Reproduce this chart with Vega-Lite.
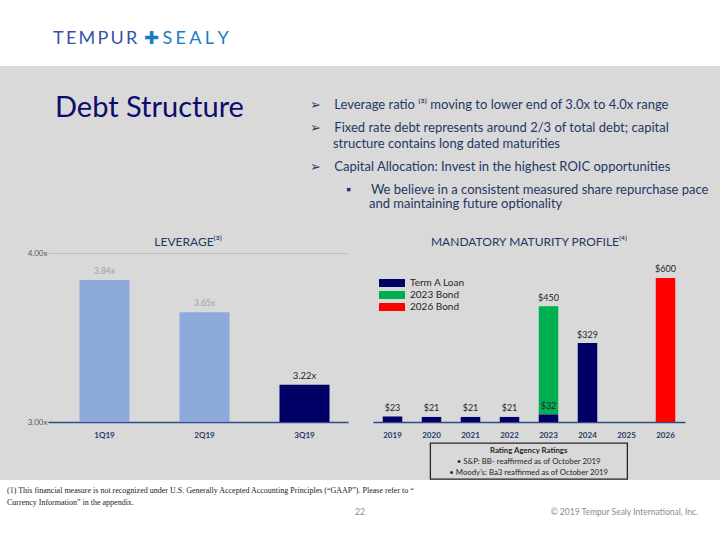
{
  "$schema": "https://vega.github.io/schema/vega-lite/v6.json",
  "background": "#d9d9d9",
  "padding": 0,
  "spacing": 0,
  "resolve": {"scale": {"color": "independent"}, "legend": {"color": "independent"}},
  "config": {
    "view": {"stroke": null},
    "font": "Lato",
    "concat": {"spacing": 0},
    "title": {"font": "Lato", "fontWeight": "normal"},
    "axis": {"labelFont": "Lato"},
    "legend": {"labelFont": "Lato"}
  },
  "vconcat": [
    {
      "title": {"text": "✚\u2009\u200aS\u2009\u200aE\u2009\u200aA\u2009\u200aL\u2009\u200aY", "orient": "bottom", "anchor": "start", "frame": "bounds", "offset": -36, "dx": 144, "fontSize": 18, "color": "#1a7bc5"},
      "vconcat": [
        {
          "width": 720, "height": 66,
          "view": {"fill": "#ffffff", "stroke": null},
          "data": {"values": []},
          "mark": "point",
          "title": {"text": "T\u2009E\u2009M\u2009P\u2009U\u2009R", "orient": "bottom", "anchor": "start", "offset": -36, "dx": 53, "fontSize": 18, "color": "#3654a5"}
        }
      ]
    },
    {
      "spacing": 0,
      "resolve": {"scale": {"color": "independent"}, "legend": {"color": "independent"}},
      "vconcat": [
        {
          "spacing": 0,
          "hconcat": [
            {
              "width": 300, "height": 170,
              "data": {"values": []},
              "mark": "point",
              "title": {"text": "Debt Structure", "orient": "bottom", "anchor": "start", "offset": -142.5, "dx": 55, "fontSize": 29, "color": "#0c0c6c"}
            },
            {
              "spacing": 0,
              "vconcat": [
                {
                  "width": 420, "height": 90,
                  "data": {"values": []},
                  "mark": "point",
                  "title": {
                    "text": "➢\u00a0\u00a0\u00a0\u00a0Leverage ratio ⁽³⁾ moving to lower end of 3.0x to 4.0x range",
                    "subtitle": ["➢\u00a0\u00a0\u00a0\u00a0Fixed rate debt represents around 2/3 of total debt; capital", "\u200b\u2003\u2002\u00a0\u00a0structure contains long dated maturities"],
                    "orient": "bottom", "anchor": "start", "offset": -57.5, "dx": 10,
                    "fontSize": 13, "color": "#1f3864",
                    "subtitleFont": "Lato", "subtitleFontSize": 13, "subtitleColor": "#1f3864", "subtitleLineHeight": 16, "subtitlePadding": 10
                  }
                },
                {
                  "width": 420, "height": 80,
                  "data": {"values": []},
                  "mark": "point",
                  "title": {
                    "text": "➢\u00a0\u00a0\u00a0\u00a0Capital Allocation: Invest in the highest ROIC opportunities",
                    "subtitle": ["\u200b\u2003\u2003\u2002\u00a0\u00a0\u00a0▪\u2002\u00a0\u00a0\u00a0\u00a0We believe in a consistent measured share repurchase pace", "\u200b\u2003\u2003\u2003\u2003\u00a0\u00a0\u00a0\u00a0\u00a0\u00a0and maintaining future optionality"],
                    "orient": "bottom", "anchor": "start", "offset": -75.3, "dx": 10,
                    "fontSize": 13, "color": "#1f3864",
                    "subtitleFont": "Lato", "subtitleFontSize": 13, "subtitleColor": "#1f3864", "subtitleLineHeight": 14.5, "subtitlePadding": 10
                  }
                }
              ]
            }
          ]
        },
        {
          "spacing": 0,
          "resolve": {"scale": {"color": "independent"}, "legend": {"color": "independent"}},
          "hconcat": [
            {
              "width": 1, "height": 1,
              "data": {"values": []},
              "mark": "point"
            },
            {
              "spacing": 25,
              "resolve": {"scale": {"color": "independent"}, "legend": {"color": "independent"}},
              "hconcat": [
                {
                  "width": 300, "height": 169,
                  "title": {"text": "LEVERAGE⁽³⁾", "fontSize": 12, "color": "#1f3864", "offset": 0, "frame": "group", "dx": -10},
                  "data": {"values": [
                    {"quarter": "1Q19", "leverage": 3.84, "label": "3.84x", "latest": "no"},
                    {"quarter": "2Q19", "leverage": 3.65, "label": "3.65x", "latest": "no"},
                    {"quarter": "3Q19", "leverage": 3.22, "label": "3.22x", "latest": "yes"}
                  ]},
                  "encoding": {
                    "x": {"field": "quarter", "type": "nominal", "sort": null,
                      "scale": {"paddingInner": 0.5, "paddingOuter": 0.25, "align": 0.63},
                      "axis": {"title": null, "labelAngle": 0, "labelFontSize": 8, "labelFontWeight": "bold", "labelColor": "#1f3864", "ticks": false, "domainColor": "#2f4b8c", "domainWidth": 1.3, "labelPadding": 9}},
                    "y": {"field": "leverage", "type": "quantitative",
                      "scale": {"domain": [3, 4], "nice": false, "zero": false},
                      "axis": {"title": null, "values": [3, 4], "labelExpr": "format(datum.value, '.2f') + 'x'", "domain": false, "ticks": false, "gridColor": "#bfbfbf", "gridWidth": 1, "labelFontSize": 8, "labelColor": "#595959", "labelPadding": 1, "minExtent": 47}}
                  },
                  "layer": [
                    {"mark": {"type": "bar"},
                     "encoding": {
                       "y2": {"datum": 3},
                       "color": {"field": "latest", "type": "nominal", "scale": {"domain": ["no", "yes"], "range": ["#8eaadb", "#000066"]}, "legend": null}}},
                    {"mark": {"type": "text", "dy": -9, "baseline": "middle"},
                     "encoding": {
                       "text": {"field": "label"},
                       "color": {"condition": {"test": "datum.latest == 'yes'", "value": "#262626"}, "value": "#a0a0a0"},
                       "size": {"condition": {"test": "datum.latest == 'yes'", "value": 9.5}, "value": 8.5}
                     }}
                  ]
                },
                {
                  "spacing": 3,
                  "center": true,
                  "resolve": {"scale": {"color": "independent"}, "legend": {"color": "independent"}},
                  "vconcat": [
                    {
                      "width": 312, "height": 169,
                      "title": {"text": "MANDATORY MATURITY PROFILE⁽⁴⁾", "fontSize": 12, "color": "#1f3864", "offset": 4},
                      "data": {"values": [
                        {"year": "2019", "series": "Term A Loan", "amount": 23},
                        {"year": "2020", "series": "Term A Loan", "amount": 21},
                        {"year": "2021", "series": "Term A Loan", "amount": 21},
                        {"year": "2022", "series": "Term A Loan", "amount": 21},
                        {"year": "2023", "series": "Term A Loan", "amount": 32},
                        {"year": "2023", "series": "2023 Bond", "amount": 450},
                        {"year": "2024", "series": "Term A Loan", "amount": 329},
                        {"year": "2026", "series": "2026 Bond", "amount": 600}
                      ]},
                      "encoding": {
                        "x": {"field": "year", "type": "nominal",
                          "scale": {"domain": ["2019", "2020", "2021", "2022", "2023", "2024", "2025", "2026"], "paddingInner": 0.5, "paddingOuter": 0.25},
                          "axis": {"title": null, "labelAngle": 0, "labelFontSize": 8, "labelFontWeight": "bold", "labelColor": "#1f3864", "ticks": false, "domainColor": "#2f4b8c", "domainWidth": 1.3, "labelPadding": 9}},
                        "y": {"field": "amount", "type": "quantitative", "stack": "zero",
                          "scale": {"domain": [0, 704], "nice": false}, "axis": null},
                        "order": {"field": "series", "sort": "descending"}
                      },
                      "layer": [
                        {"mark": {"type": "bar"},
                         "encoding": {"color": {"field": "series", "type": "nominal",
                           "scale": {"domain": ["Term A Loan", "2023 Bond", "2026 Bond"], "range": ["#000066", "#00b050", "#ff0000"]},
                           "legend": {"title": null, "orient": "none", "legendX": 14, "legendY": 25, "symbolType": "M-2.6,-0.8H2.6V0.8H-2.6Z", "symbolSize": 100, "symbolStrokeWidth": 0, "labelFontSize": 10, "labelColor": "#262626", "labelOffset": 13, "rowPadding": 2, "padding": 0}}}},
                        {"mark": {"type": "text", "dy": -8.5, "fontSize": 9, "color": "#262626", "baseline": "middle"},
                         "encoding": {"text": {"field": "amount", "format": "$.0f"}, "detail": {"field": "series"}}}
                      ]
                    },
                    {
                      "width": 197, "height": 36,
                      "view": {"stroke": "#262626", "strokeWidth": 1.3, "fill": "#d9d9d9"},
                      "data": {"values": [
                        {"line": "head", "text": "Rating Agency Ratings"},
                        {"line": "sp", "text": "• S&P: BB- reaffirmed as of October 2019"},
                        {"line": "moodys", "text": "• Moody’s: Ba3 reaffirmed as of October 2019"}
                      ]},
                      "encoding": {
                        "y": {"field": "line", "type": "nominal", "scale": {"type": "point", "domain": ["head", "sp", "moodys"], "padding": 0.7}, "axis": null},
                        "text": {"field": "text"}
                      },
                      "layer": [
                        {"transform": [{"filter": "datum.line == 'head'"}],
                         "mark": {"type": "text", "fontWeight": "bold", "fontSize": 7.8, "color": "#262626", "baseline": "middle", "dy": 1}},
                        {"transform": [{"filter": "datum.line != 'head'"}],
                         "mark": {"type": "text", "fontSize": 7.8, "color": "#262626", "baseline": "middle", "dy": 1}}
                      ]
                    }
                  ]
                }
              ]
            }
          ]
        }
      ]
    },
    {
      "title": {"text": "© 2019 Tempur Sealy International, Inc.", "orient": "bottom", "anchor": "end", "frame": "bounds", "offset": -30, "dx": -22, "fontSize": 8.5, "color": "#8c8c8c"},
      "vconcat": [
        {
          "width": 720, "height": 58,
          "view": {"fill": "#ffffff", "stroke": null},
          "title": {"text": ["(1) This financial measure is not recognized under U.S. Generally Accepted Accounting Principles (“GAAP”).  Please refer to “", "Currency Information” in the appendix."], "orient": "bottom", "anchor": "start", "offset": -51, "dx": 7, "fontSize": 8, "font": "Liberation Serif", "color": "#1a1a1a", "lineHeight": 12},
          "data": {"values": [{"page": "22"}]},
          "mark": {"type": "text", "fontSize": 8.5, "color": "#8c8c8c", "baseline": "middle", "dy": 3},
          "encoding": {"text": {"field": "page"}}
        }
      ]
    }
  ]
}
